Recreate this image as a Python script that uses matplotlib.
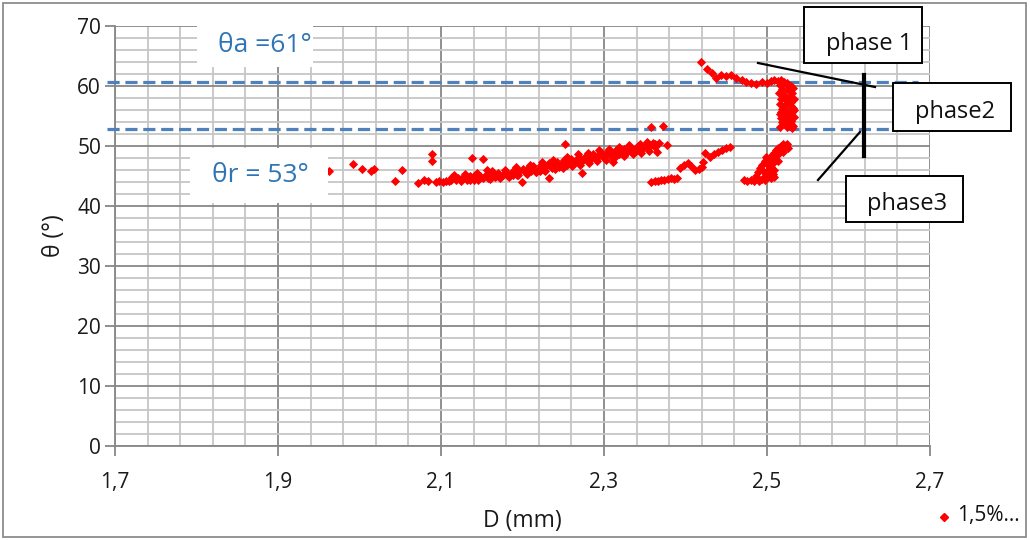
import matplotlib
matplotlib.use("Agg")
import matplotlib.pyplot as plt
from matplotlib.patches import Rectangle
from matplotlib.lines import Line2D
from matplotlib.ticker import FixedLocator, FuncFormatter

plt.rcParams['font.family'] = ['Open Sans', 'DejaVu Sans']

# scatter series "1,5%..." : droplet base diameter D (mm) vs contact angle theta (deg)
d_left = [1.963, 1.992, 2.003, 2.014, 2.018, 2.043, 2.052, 2.072, 2.079, 2.084, 2.089, 2.089]
t_left = [45.9, 47.0, 46.1, 45.9, 46.1, 44.2, 46.0, 43.9, 44.4, 44.2, 48.6, 47.5]

d_band = [2.094, 2.098, 2.102, 2.106, 2.110, 2.114, 2.118, 2.121, 2.125, 2.128, 2.132, 2.135,
          2.138, 2.139, 2.142, 2.145, 2.148, 2.152, 2.152, 2.156, 2.156, 2.160, 2.163, 2.166,
          2.170, 2.173, 2.176, 2.180, 2.183, 2.186, 2.190, 2.193, 2.196, 2.199, 2.200, 2.204,
          2.207, 2.210, 2.213, 2.216, 2.220, 2.223, 2.226, 2.229, 2.232, 2.233, 2.236, 2.239,
          2.242, 2.245, 2.248, 2.252, 2.251, 2.254, 2.257, 2.260, 2.263, 2.266, 2.269, 2.272,
          2.273, 2.275, 2.278, 2.281, 2.284, 2.287, 2.290, 2.293, 2.296, 2.299, 2.302, 2.305,
          2.308, 2.311, 2.312, 2.315, 2.318, 2.321, 2.324, 2.327, 2.330, 2.333, 2.336, 2.339,
          2.342, 2.345, 2.348, 2.351, 2.354, 2.357, 2.358, 2.360, 2.363, 2.365, 2.367, 2.372,
          2.377, 2.140, 2.168, 2.188, 2.205, 2.222, 2.243, 2.262, 2.283, 2.300, 2.320, 2.340]
t_band = [44.0, 44.1, 44.0, 44.2, 44.1, 44.8, 44.3, 44.6, 44.2, 44.9, 44.4, 45.0,
          48.05, 44.6, 45.2, 44.3, 45.0, 47.8, 44.7, 46.0, 45.3, 44.5, 45.1, 44.8,
          45.5, 44.6, 45.2, 45.7, 44.9, 45.4, 46.0, 45.2, 45.8, 44.05, 46.2, 45.5,
          46.3, 45.8, 46.6, 45.6, 46.2, 46.9, 46.0, 46.6, 44.6, 47.1, 46.3, 46.9,
          47.4, 46.5, 47.0, 50.3, 47.6, 46.8, 47.3, 47.9, 47.1, 47.6, 48.1, 47.4,
          45.5, 47.9, 48.4, 47.6, 48.2, 48.7, 47.9, 48.5, 48.9, 48.2, 48.7, 49.1,
          48.4, 47.4, 48.9, 49.3, 48.6, 49.1, 49.5, 48.9, 49.3, 49.7, 49.1, 49.6,
          50.0, 49.4, 49.8, 50.2, 49.6, 50.1, 53.2, 50.5, 49.8, 49.05, 50.45, 53.4,
          50.2, 44.4, 45.0, 45.1, 45.9, 45.8, 46.8, 47.3, 47.8, 48.4, 48.8, 49.4]

# thicker part of the band (lower and upper edges)
d_band2 = [2.112, 2.124, 2.136, 2.147, 2.158, 2.171, 2.182, 2.194, 2.206, 2.217, 2.228, 2.240,
           2.250, 2.261, 2.271, 2.282, 2.292, 2.303, 2.314, 2.325, 2.335, 2.346, 2.355,
           2.116, 2.130, 2.144, 2.162, 2.178, 2.192, 2.209, 2.224, 2.238, 2.255, 2.268, 2.280,
           2.294, 2.306, 2.318, 2.331, 2.344, 2.353, 2.362]
t_band2 = [44.3, 44.5, 44.4, 44.6, 44.7, 44.8, 45.0, 45.1, 45.4, 45.6, 45.9, 46.1,
           46.4, 46.6, 46.9, 47.2, 47.5, 47.7, 48.1, 48.3, 48.6, 48.9, 49.2,
           45.1, 45.4, 45.5, 45.9, 46.0, 46.5, 46.8, 47.3, 47.7, 48.2, 48.6, 48.9,
           49.3, 49.5, 49.8, 50.1, 50.4, 50.6, 50.4]

d_low = [2.358, 2.362, 2.366, 2.370, 2.374, 2.378, 2.382, 2.386, 2.389, 2.393, 2.398, 2.403,
         2.407, 2.412, 2.416, 2.420, 2.422, 2.424, 2.430, 2.435, 2.440, 2.445, 2.450, 2.455]
t_low = [44.05, 44.2, 44.1, 44.4, 44.3, 44.5, 44.6, 44.5, 44.6, 46.3, 46.8, 47.1,
         46.6, 46.0, 46.2, 46.5, 47.4, 48.8, 48.2, 48.6, 49.0, 49.3, 49.6, 49.9]

d_ph1 = [2.419, 2.426, 2.433, 2.438, 2.444, 2.450, 2.456, 2.462, 2.469, 2.474, 2.480, 2.487,
         2.494, 2.500]
t_ph1 = [64.05, 62.9, 62.2, 61.3, 61.8, 61.6, 61.8, 61.4, 61.0, 60.6, 60.5, 60.4,
         60.6, 60.5]

d_ph2 = [2.505, 2.509, 2.513, 2.517, 2.521, 2.525, 2.516, 2.523, 2.529, 2.532, 2.518, 2.526,
         2.531, 2.515, 2.521, 2.528, 2.533, 2.517, 2.524, 2.530, 2.516, 2.522, 2.529, 2.532,
         2.518, 2.525, 2.531, 2.516, 2.523, 2.528, 2.533, 2.517, 2.524, 2.530, 2.518, 2.522,
         2.529, 2.532, 2.516, 2.525, 2.531, 2.519, 2.527, 2.533, 2.517, 2.523, 2.530]
t_ph2 = [60.9, 61.0, 60.8, 61.0, 60.7, 60.5, 60.2, 60.4, 60.0, 59.7, 59.5, 59.3,
         58.9, 58.8, 58.5, 58.2, 57.9, 57.8, 57.5, 57.3, 57.0, 56.8, 56.6, 56.4,
         56.1, 55.9, 55.7, 55.4, 55.2, 55.0, 54.8, 54.6, 54.4, 54.2, 54.0, 53.8,
         53.6, 53.4, 53.2, 53.1, 53.0, 59.1, 58.0, 56.0, 55.6, 54.1, 53.5]

d_ph3 = [2.472, 2.476, 2.480, 2.484, 2.486, 2.489, 2.491, 2.494, 2.497, 2.499, 2.490, 2.494,
         2.497, 2.500, 2.502, 2.505, 2.507, 2.510, 2.500, 2.503, 2.505, 2.508, 2.511, 2.514,
         2.517, 2.520, 2.523, 2.526, 2.512, 2.515, 2.518, 2.509, 2.503, 2.496, 2.507, 2.513,
         2.520, 2.525, 2.497, 2.505, 2.509]
t_ph3 = [44.3, 44.1, 44.4, 44.2, 45.0, 45.6, 46.3, 46.9, 47.5, 48.1, 44.2, 44.5,
         44.3, 45.0, 45.8, 46.5, 47.2, 47.8, 47.0, 47.6, 48.3, 48.8, 49.3, 49.7,
         50.0, 50.3, 50.1, 49.6, 48.5, 48.9, 49.4, 46.0, 46.2, 45.7, 45.3, 47.5,
         49.0, 50.3, 44.8, 44.6, 44.9]

d_all = d_left + d_band + d_band2 + d_low + d_ph1 + d_ph2 + d_ph3
t_all = t_left + t_band + t_band2 + t_low + t_ph1 + t_ph2 + t_ph3

# advancing / receding reference lines
d_ref = [1.69, 2.685]
theta_a = [60.7, 60.7]
theta_r = [52.8, 52.8]

x_major = [1.7, 1.9, 2.1, 2.3, 2.5, 2.7]

W, H = 1030, 540
fig = plt.figure(figsize=(10.3, 5.4), dpi=100)
ax = fig.add_axes([115 / W, 1 - 446 / H, 815 / W, 420 / H])


def fx(px):
    return px / W


def fy(py):
    return 1 - py / H


ax.set_xlim(1.7, 2.7)
ax.set_ylim(0, 70)
ax.xaxis.set_major_locator(FixedLocator(x_major))
ax.xaxis.set_minor_locator(FixedLocator([1.7 + 0.04 * k for k in range(26)]))
ax.yaxis.set_major_locator(FixedLocator(list(range(0, 71, 10))))
ax.yaxis.set_minor_locator(FixedLocator(list(range(0, 71, 2))))
ax.xaxis.set_major_formatter(FuncFormatter(lambda v, p: f"{v:.1f}".replace('.', ',')))
ax.grid(which='major', color='#878787', lw=1.3)
ax.grid(which='minor', color='#c6c6c6', lw=1.3)
ax.set_axisbelow(True)
for s in ['top', 'right']:
    ax.spines[s].set_visible(False)
for s in ['left', 'bottom']:
    ax.spines[s].set_color('#878787')
    ax.spines[s].set_linewidth(1.3)
ax.tick_params(which='major', length=7, width=1.3, color='#878787', labelsize=15,
               labelcolor='#1a1a1a', pad=3)
ax.tick_params(axis='x', pad=12)
ax.tick_params(which='minor', length=0)

ax.plot(d_ref, theta_a, color='#4F81BD', lw=2.3, ls=(0, (3.8, 1.8)), clip_on=False, zorder=3)
ax.plot(d_ref, theta_r, color='#4F81BD', lw=2.3, ls=(0, (3.8, 1.8)), clip_on=False, zorder=3)
ax.plot(d_all, t_all, ls='none', marker='D', ms=3.9, color='red', mec='red', mew=0.6,
        zorder=4, clip_on=False)

ax.set_xlabel('D (mm)', fontsize=16.5, color='#1a1a1a', labelpad=11)
ax.set_ylabel('θ (°)', fontsize=16.5, color='#1a1a1a', labelpad=8)

# white label boxes for theta values
fig.add_artist(Rectangle((fx(197), fy(67)), (313 - 197) / W, 45 / H, transform=fig.transFigure,
                         facecolor='white', edgecolor='none', zorder=5))
fig.add_artist(Rectangle((fx(190), fy(203)), (328 - 190) / W, 55 / H, transform=fig.transFigure,
                         facecolor='white', edgecolor='none', zorder=5))
fig.text(fx(265), fy(46), 'θa =61°', fontsize=19, color='#2E75B6', ha='center', va='center',
         zorder=6)
fig.text(fx(260), fy(176), 'θr = 53°', fontsize=19, color='#2E75B6', ha='center', va='center',
         zorder=6)

# phase callouts
for (x0, y0, x1, y1) in [(758, 63, 875, 87), (860, 132, 818, 180)]:
    fig.add_artist(Line2D([fx(x0), fx(x1)], [fy(y0), fy(y1)], transform=fig.transFigure,
                          color='black', lw=1.6, zorder=6))
fig.add_artist(Line2D([fx(864), fx(864)], [fy(75), fy(156)], transform=fig.transFigure,
                      color='black', lw=3.0, zorder=6))
boxes = [(804, 7, 922, 63, 'phase 1', 869, 44),
         (893, 83, 1011, 131, 'phase2', 955, 112),
         (846, 176, 963, 222, 'phase3', 907, 204)]
for (x0, y0, x1, y1, lab, tx, ty) in boxes:
    fig.add_artist(Rectangle((fx(x0), fy(y1)), (x1 - x0) / W, (y1 - y0) / H,
                             transform=fig.transFigure, facecolor='white', edgecolor='black',
                             lw=1.4, zorder=7))
    fig.text(fx(tx), fy(ty), lab, fontsize=17, color='#111111', ha='center', va='center',
             zorder=8)

# legend
fig.add_artist(Line2D([fx(944)], [fy(517)], transform=fig.transFigure, ls='none', marker='D',
                      ms=3.9, color='red', zorder=6))
fig.text(fx(957), fy(516), '1,5%...', fontsize=15, color='#111111', ha='left', va='center')

# chart area border
fig.add_artist(Rectangle((fx(3), fy(537)), (1026 - 3) / W, (537 - 3) / H,
                         transform=fig.transFigure, facecolor='none', edgecolor='#8c8c8c',
                         lw=1.3, zorder=1))

fig.savefig('out.png', dpi=100)
